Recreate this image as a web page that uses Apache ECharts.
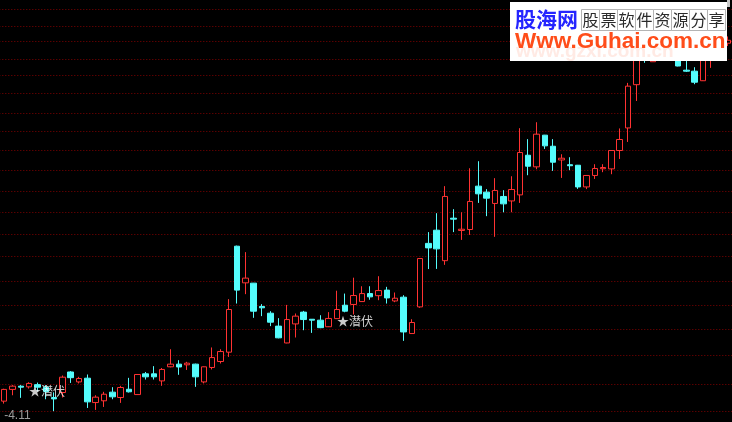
<!DOCTYPE html>
<html>
<head>
<meta charset="utf-8">
<script src="https://cdn.jsdelivr.net/npm/echarts/dist/echarts.min.js"></script>
<style>
html,body{margin:0;padding:0;background:#000;}
#chart{width:732px;height:422px;}
</style>
</head>
<body>
<div id="chart"></div>
<script>
// ---- data (price values, log price scale) ----
const opens = [4.169,4.237,4.256,4.252,4.265,4.250,4.190,4.219,4.340,4.281,
  4.303,4.161,4.171,4.221,4.190,4.238,4.207,4.329,4.329,4.287,
  4.371,4.387,4.383,4.387,4.281,4.367,4.403,4.460,5.161,4.907,
  4.905,4.750,4.706,4.623,4.517,4.637,4.713,4.667,4.661,4.619,
  4.671,4.758,4.763,4.782,4.835,4.821,4.858,4.786,4.811,4.576,
  4.747,5.181,5.276,5.059,5.364,5.274,5.281,5.606,5.560,5.474,
  5.527,5.493,5.539,5.850,5.757,6.014,5.923,5.812,5.774,5.770,
  5.600,5.689,5.742,5.741,5.888,6.074,6.447,6.807,6.654,6.807,
  6.969,6.761,6.577,6.568,6.482,6.687,6.870,6.826];
const closes = [4.237,4.256,4.250,4.272,4.250,4.225,4.182,4.309,4.306,4.301,
  4.165,4.192,4.209,4.194,4.248,4.223,4.325,4.311,4.311,4.355,
  4.387,4.370,4.393,4.311,4.371,4.427,4.464,4.730,4.858,4.939,
  4.719,4.741,4.648,4.549,4.665,4.687,4.665,4.661,4.613,4.672,
  4.730,4.719,4.822,4.835,4.813,4.855,4.806,4.804,4.586,4.646,
  5.074,5.149,5.142,5.527,5.357,5.283,5.489,5.547,5.514,5.573,
  5.471,5.580,5.872,5.762,6.022,5.926,5.794,5.826,5.766,5.600,
  5.689,5.744,5.752,5.888,5.978,6.434,6.761,6.687,6.949,6.949,
  6.780,6.615,6.568,6.469,6.711,6.854,6.780,6.854];
const lows = [4.155,4.203,4.188,4.242,4.225,4.180,4.112,4.190,4.275,4.272,
  4.130,4.119,4.136,4.180,4.159,4.219,4.205,4.295,4.295,4.258,
  4.368,4.323,4.352,4.252,4.272,4.355,4.391,4.431,4.769,4.831,
  4.676,4.687,4.623,4.546,4.515,4.551,4.597,4.580,4.610,4.617,
  4.670,4.712,4.698,4.780,4.794,4.791,4.769,4.778,4.530,4.575,
  4.741,5.001,5.002,5.030,5.262,5.206,5.242,5.478,5.379,5.228,
  5.408,5.408,5.478,5.691,5.738,5.901,5.725,5.670,5.731,5.585,
  5.583,5.662,5.715,5.699,5.820,5.958,6.304,6.644,6.654,6.739,
  6.711,6.612,6.561,6.451,6.480,6.598,6.711,6.800];
const highs = [4.241,4.262,4.262,4.279,4.277,4.262,4.220,4.319,4.345,4.311,
  4.325,4.203,4.223,4.250,4.258,4.305,4.327,4.340,4.375,4.364,
  4.478,4.411,4.401,4.390,4.373,4.489,4.478,4.798,5.165,5.119,
  4.906,4.765,4.719,4.674,4.760,4.704,4.721,4.668,4.693,4.713,
  4.854,4.835,4.942,4.884,4.884,4.952,4.880,4.842,4.824,4.667,
  5.076,5.262,5.401,5.606,5.431,5.408,5.746,5.802,5.583,5.668,
  5.575,5.683,6.072,5.981,6.122,6.016,5.981,5.858,5.834,5.772,
  5.690,5.778,5.778,5.890,6.070,6.463,6.854,6.902,7.045,7.045,
  7.065,6.854,6.687,6.604,6.780,6.949,6.949,6.890];
// horizontal dotted price grid lines
const gridPrices = [4.110,4.272,4.440,4.602,4.763,4.923,5.088,5.252,5.406,5.573,
  5.728,5.888,6.053,6.204,6.369,6.529,6.684,6.842,6.994,7.150];
const tickLabelPrices = [4.11];
// signal marks ("★潜伏") at these bars, drawn at the bar's low
const signalBars = [3, 40];
const signalText = '★潜伏';
// visible price range of the panel
const priceMin = 4.051, priceMax = 7.2446;

const categories = opens.map((_, i) => String(i + 1));
const kData = opens.map((o, i) => [o, closes[i], lows[i], highs[i]]);
const N = categories.length;
const band = 8.39;

const chart = echarts.init(document.getElementById('chart'), null, {renderer: 'canvas'});

const cellGraphics = [];
const slogan = '股票软件资源分享';
for (let k = 0; k < slogan.length; k++) {
  cellGraphics.push({type: 'rect', z: 101, shape: {x: 581.5 + 18 * k, y: 9.5, width: 18, height: 21},
    style: {fill: 'none', stroke: '#b4b4b4', lineWidth: 1}});
  cellGraphics.push({type: 'text', z: 102, x: 590.5 + 18 * k, y: 20,
    style: {text: slogan[k], fill: '#2a2a2a', fontSize: 16, fontFamily: '"Noto Sans CJK SC"', align: 'center', verticalAlign: 'middle'}});
}

const option = {
  backgroundColor: '#000',
  animation: false,
  grid: {left: -4.3, top: 0, width: band * N, height: 422},
  xAxis: {type: 'category', data: categories, boundaryGap: true, show: false},
  yAxis: {type: 'log', logBase: 10, min: priceMin, max: priceMax, show: false, splitLine: {show: false}},
  series: [
    {
      type: 'candlestick',
      data: kData,
      barWidth: 6,
      z: 2,
      clip: true,
      itemStyle: {color: '#000', color0: '#54fcfc', borderColor: '#ff3232', borderColor0: '#54fcfc', borderWidth: 1},
      emphasis: {disabled: true},
      markLine: {
        silent: true, z: 1, animation: false,
        symbol: ['none', 'none'],
        label: {show: false},
        lineStyle: {color: '#800000', type: [1, 2], dashOffset: 0.7, width: 1},
        emphasis: {disabled: true},
        data: gridPrices.map(v => ({yAxis: v}))
      }
    },
    {
      type: 'scatter',
      z: 3,
      silent: true,
      symbolSize: 0,
      data: signalBars.map(i => [i, lows[i]]),
      label: {show: true, formatter: signalText, position: 'right', distance: 0, offset: [0, 3],
        color: '#ffffff', fontSize: 12, fontFamily: '"Noto Sans CJK SC"'}
    },
    {
      type: 'scatter',
      z: 3,
      silent: true,
      symbolSize: 0,
      data: tickLabelPrices.map(v => [0, v]),
      label: {show: true, formatter: p => '-' + p.value[1].toFixed(2), position: 'right', distance: 0, offset: [0, 4],
        color: '#c0c0c0', fontSize: 12, fontFamily: '"Liberation Sans"'}
    }
  ],
  graphic: [
    {type: 'rect', z: 100, shape: {x: 510, y: 2, width: 217, height: 59}, style: {fill: '#ffffff'}},
    {type: 'rect', z: 100, shape: {x: 727, y: 0, width: 3, height: 7}, style: {fill: '#c8c8c8'}},
    {type: 'text', z: 101, x: 516, y: 52,
      style: {text: 'www.gzxi.com.cn', fill: '#ffeae4', fontSize: 19, fontWeight: 'bold', fontFamily: '"Liberation Sans"', verticalAlign: 'middle'}},
    {type: 'text', z: 102, x: 515, y: 19.5,
      style: {text: '股海网', fill: '#2424ff', fontSize: 21, fontWeight: 'bold', fontFamily: '"Noto Sans CJK SC"', verticalAlign: 'middle'}},
    ...cellGraphics,
    {type: 'text', z: 102, x: 515, y: 42,
      style: {text: 'Www.Guhai.com.cn', fill: '#ff4d1a', fontSize: 22.5, fontWeight: 'bold', fontFamily: '"Liberation Sans"', verticalAlign: 'middle'}}
  ]
};
chart.setOption(option);
</script>
</body>
</html>
